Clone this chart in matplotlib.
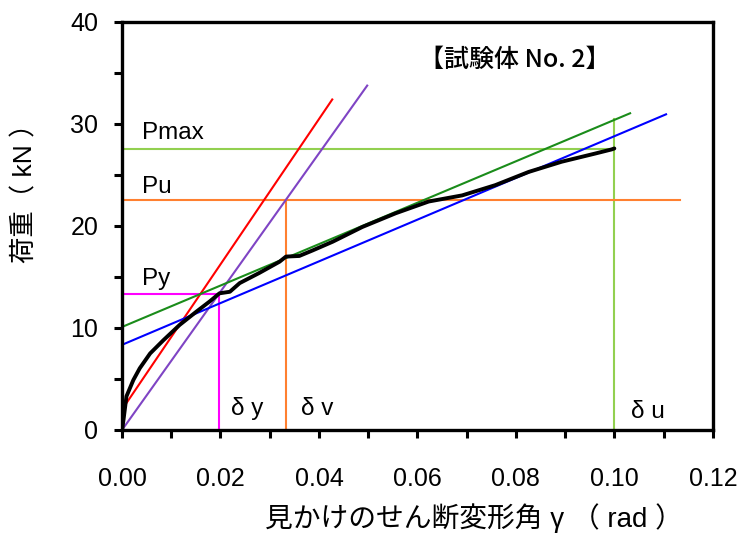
import matplotlib
matplotlib.use("Agg")
import matplotlib.pyplot as plt
from matplotlib.ticker import MultipleLocator, FuncFormatter

plt.rcParams['font.family'] = ['Liberation Sans', 'Noto Sans CJK JP', 'DejaVu Sans']

# load - shear deformation curve (specimen No.2)
gamma = [0, 0.0003, 0.0009, 0.0023, 0.0036, 0.0057, 0.0084, 0.0117, 0.0151,
         0.0178, 0.0198, 0.0219, 0.0239, 0.0279, 0.032, 0.0333, 0.036, 0.0387,
         0.0428, 0.0488, 0.0556, 0.0623, 0.0691, 0.0758, 0.0826, 0.0893,
         0.0961, 0.0994, 0.1]
load = [0, 1.0, 3.3, 4.9, 6.05, 7.5, 8.8, 10.3, 11.6,
        12.6, 13.4, 13.55, 14.4, 15.4, 16.5, 17.0, 17.06, 17.6,
        18.46, 19.9, 21.25, 22.4, 23.0, 24.0, 25.3, 26.3,
        27.1, 27.5, 27.6]

# characteristic values
p_max, p_u, p_y = 27.5, 22.5, 13.3
d_y, d_v, d_u = 0.0197, 0.0334, 0.1

# straight lines: (x start, x end, intercept, slope)
red_line = (0.001, 0.0427, 2.0, 712)
purple_line = (0.0, 0.0498, 0.0, 678)
green_line = (0.0, 0.1032, 10.1, 203)
blue_line = (0.0, 0.1105, 8.35, 204.5)

fig = plt.figure(figsize=(7.45, 5.36), dpi=100)
ax = fig.add_axes([0.1638, 0.1978, 0.7930, 0.7612])

def straight(line, color):
    x0, x1, b, m = line
    ax.plot([x0, x1], [b + m * x0, b + m * x1], color=color, lw=1.5)

# reference lines
ax.plot([0, d_u], [p_max, p_max], color='#92d050', lw=1.5)
ax.plot([d_u, d_u], [0, 30.5], color='#92d050', lw=1.5)
ax.plot([0, 0.1133], [p_u, p_u], color='#ff8030', lw=1.5)
ax.plot([d_v, d_v], [0, p_u], color='#ff8030', lw=1.5)
ax.plot([0, d_y], [p_y, p_y], color='#ff00ff', lw=1.5)
ax.plot([d_y, d_y], [0, p_y], color='#ff00ff', lw=1.5)

straight(red_line, '#ff0000')
straight(purple_line, '#7f44c4')
straight(green_line, '#1a8c1a')
straight(blue_line, '#0000ff')

ax.plot(gamma, load, color='black', lw=2.8, solid_capstyle='round',
        solid_joinstyle='round')

# annotations
ax.text(0.004, 28.5, 'Pmax', fontsize=17.5, va='baseline')
ax.text(0.004, 23.2, 'Pu', fontsize=17.5, va='baseline')
ax.text(0.004, 14.2, 'Py', fontsize=17.5, va='baseline')
ax.text(0.0222, 1.5, 'δ y', fontsize=17.5, va='baseline')
ax.text(0.0364, 1.5, 'δ v', fontsize=17.5, va='baseline')
ax.text(0.1034, 1.2, 'δ u', fontsize=17.5, va='baseline')
ax.text(0.0603, 36.3, '【試験体 No. 2】', fontsize=18, va='center',
        family=['Noto Sans CJK JP'], fontweight='medium')

ax.set_xlim(0, 0.12)
ax.set_ylim(0, 40)
ax.xaxis.set_major_locator(MultipleLocator(0.02))
ax.xaxis.set_minor_locator(MultipleLocator(0.01))
ax.yaxis.set_major_locator(MultipleLocator(10))
ax.yaxis.set_minor_locator(MultipleLocator(5))
ax.xaxis.set_major_formatter(FuncFormatter(lambda v, p: f'{v:.2f}'))
ax.yaxis.set_major_formatter(FuncFormatter(lambda v, p: f'{v:.0f}'))
ax.tick_params(which='both', direction='out', length=6, width=2.2)
ax.tick_params(axis='x', which='major', labelsize=18, pad=21)
ax.tick_params(axis='y', which='major', labelsize=18, pad=11)
for s in ax.spines.values():
    s.set_linewidth(2.4)

fig.text(474 / 745, 1 - 518 / 536, '見かけのせん断変形角 γ （ rad ）',
         fontsize=20, ha='center', va='center')
fig.text(25 / 745, 1 - 187 / 536, '荷重（ kN ）', fontsize=19,
         rotation=90, ha='center', va='center')

fig.savefig('out.png', dpi=100)
